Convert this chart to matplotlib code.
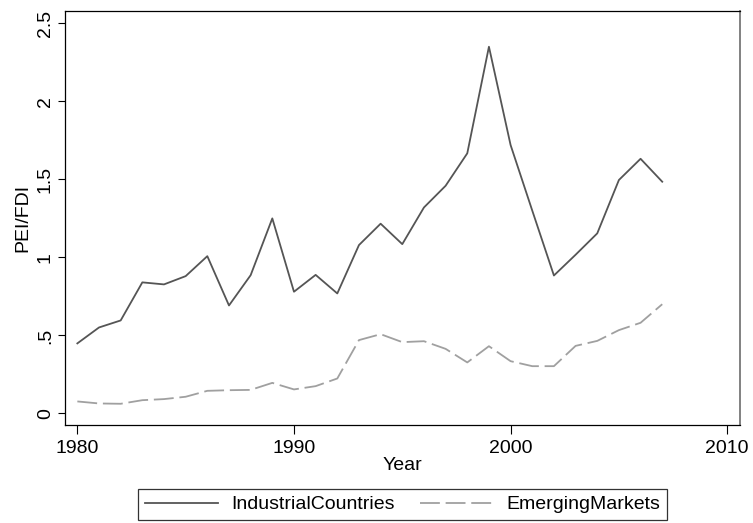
import matplotlib
matplotlib.use("Agg")
import matplotlib.pyplot as plt

years = list(range(1980, 2008))
industrial = [0.449, 0.551, 0.596, 0.840, 0.827, 0.880, 1.008, 0.692, 0.886, 1.250,
              0.780, 0.888, 0.769, 1.079, 1.216, 1.085, 1.320, 1.459, 1.667, 2.350,
              1.720, 1.300, 0.884, 1.017, 1.154, 1.496, 1.632, 1.485]
emerging = [0.077, 0.064, 0.062, 0.085, 0.092, 0.107, 0.145, 0.149, 0.151, 0.196,
            0.154, 0.175, 0.224, 0.470, 0.508, 0.457, 0.463, 0.414, 0.327, 0.431,
            0.335, 0.303, 0.303, 0.433, 0.465, 0.534, 0.581, 0.700]
xticks = [1980, 1990, 2000, 2010]
yticks = [0, 0.5, 1, 1.5, 2, 2.5]
yticklabels = ["0", ".5", "1", "1.5", "2", "2.5"]
series_names = ["IndustrialCountries", "EmergingMarkets"]

plt.rcParams['font.family'] = ['Liberation Sans', 'DejaVu Sans']
FS = 14

fig = plt.figure(figsize=(7.53, 5.23), dpi=100)
ax = fig.add_axes([65/753, 1-425/523, (740-65)/753, (425-11)/523])

l1, = ax.plot(years, industrial, color='#555555', lw=1.3, label=series_names[0])
l2, = ax.plot(years, emerging, color='#a0a0a0', lw=1.3, dashes=(11, 3.2), label=series_names[1])

ax.set_xlim(1979.43, 2010.59)
ax.set_ylim(-0.074, 2.579)
ax.set_xticks(xticks)
ax.set_xticklabels([str(x) for x in xticks], fontsize=FS)
ax.set_yticks(yticks)
ax.set_yticklabels(yticklabels, fontsize=FS, rotation=90, va='center')
ax.tick_params(axis='x', length=6.5, width=0.8, pad=4, color='black')
ax.tick_params(axis='y', length=5, width=0.8, pad=3, color='black')
for s in ax.spines.values():
    s.set_linewidth(0.9)
    s.set_color('black')
ax.spines['right'].set_color('#777777')
ax.spines['right'].set_linewidth(1.3)

ax.set_xlabel("Year", fontsize=FS, labelpad=0)
ax.set_ylabel("PEI/FDI", fontsize=FS, labelpad=4)

leg = fig.legend(handles=[l1, l2], loc='center', bbox_to_anchor=(402.5/753, 1-504.5/523),
                 ncol=2, fontsize=FS, frameon=True, fancybox=False,
                 handlelength=3.75, handletextpad=0.67, columnspacing=1.34,
                 borderpad=0.35, borderaxespad=0)
leg.get_frame().set_edgecolor('black')
leg.get_frame().set_linewidth(0.9)

fig.savefig("out.png", dpi=100, facecolor='white')
